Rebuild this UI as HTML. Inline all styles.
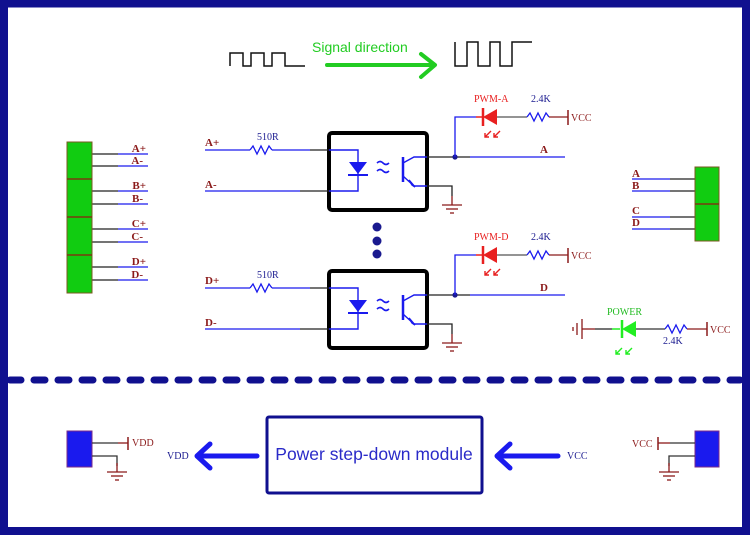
<!DOCTYPE html>
<html><head><meta charset="utf-8"><style>
html,body{margin:0;padding:0;background:#fff;width:750px;height:535px;overflow:hidden}
svg{display:block}
.lbl{font-family:"Liberation Serif",serif;font-size:11px;fill:#8b1a1a;font-weight:bold}
.sm{font-family:"Liberation Serif",serif;font-size:10px}
</style></head><body>
<svg width="750" height="535" viewBox="0 0 750 535" xmlns="http://www.w3.org/2000/svg">
<defs>
<g id="gnd" stroke="#8b1a1a" stroke-width="1.3" fill="none">
<line x1="0" y1="0" x2="0" y2="9"/><line x1="-10" y1="9" x2="10" y2="9"/><line x1="-6" y1="13" x2="6" y2="13"/><line x1="-2" y1="17" x2="2" y2="17"/>
</g>
<g id="opto">
<rect x="329" y="133" width="98" height="77" rx="3" fill="none" stroke="#000" stroke-width="4"/>
<polyline points="329,150 358,150 358,191 329,191" fill="none" stroke="#1a1aee" stroke-width="1.4"/>
<polygon points="349,162 367,162 358,174" fill="#1a1aee"/>
<line x1="348" y1="175" x2="368" y2="175" stroke="#1a1aee" stroke-width="2"/>
<path d="M377,163 q3,-3 6,0 q3,3 6,0 M377,171 q3,-3 6,0 q3,3 6,0" stroke="#1a1aee" stroke-width="1.6" fill="none"/>
<line x1="403" y1="157" x2="403" y2="182" stroke="#1a1aee" stroke-width="2.5"/>
<polyline points="403,163 414,157 427,157" fill="none" stroke="#1a1aee" stroke-width="1.4"/>
<polyline points="403,176 414,186 427,186" fill="none" stroke="#1a1aee" stroke-width="1.4"/>
<polygon points="415,187 409,180 412,185" fill="#1a1aee" stroke="#1a1aee" stroke-width="1.5"/>
<line x1="205" y1="150" x2="250" y2="150" stroke="#1a1aee" stroke-width="1.3"/>
<polyline points="250,150 253,146 257,154 261,146 265,154 269,146 272,150" fill="none" stroke="#1a1aee" stroke-width="1.3"/>
<line x1="272" y1="150" x2="310" y2="150" stroke="#1a1aee" stroke-width="1.3"/>
<line x1="310" y1="150" x2="329" y2="150" stroke="#222" stroke-width="1.3"/>
<line x1="205" y1="191" x2="300" y2="191" stroke="#1a1aee" stroke-width="1.3"/>
<line x1="300" y1="191" x2="329" y2="191" stroke="#222" stroke-width="1.3"/>
<text x="257" y="140" class="sm" fill="#1a1a8f">510R</text>
<line x1="427" y1="157" x2="470" y2="157" stroke="#222" stroke-width="1.3"/>
<line x1="470" y1="157" x2="565" y2="157" stroke="#1a1aee" stroke-width="1.3"/>
<circle cx="455" cy="157" r="2.6" fill="#1a1a8f"/>
<polyline points="455,157 455,117 476,117" fill="none" stroke="#1a1aee" stroke-width="1.3"/>
<line x1="476" y1="117" x2="482" y2="117" stroke="#e82020" stroke-width="1.5"/>
<polygon points="483,117 497,109 497,125" fill="#e82020"/>
<line x1="483" y1="108" x2="483" y2="126" stroke="#e82020" stroke-width="2.5"/>
<line x1="497" y1="117" x2="527" y2="117" stroke="#555" stroke-width="1.3"/>
<polyline points="527,117 530,113 534,121 538,113 542,121 546,113 549,117" fill="none" stroke="#1a1aee" stroke-width="1.3"/>
<line x1="549" y1="117" x2="568" y2="117" stroke="#8b1a1a" stroke-width="1.3"/>
<line x1="568" y1="110" x2="568" y2="125" stroke="#8b1a1a" stroke-width="1.5"/>
<text x="571" y="121" class="sm" fill="#8b1a1a">VCC</text>
<path d="M491,131 l-6,6 m0,-4 v4 h4 M500,131 l-6,6 m0,-4 v4 h4" stroke="#e82020" stroke-width="1.4" fill="none"/>
<text x="531" y="102" class="sm" fill="#1a1a8f">2.4K</text>
<polyline points="427,186 452,186 452,196" fill="none" stroke="#222" stroke-width="1.3"/>
<use href="#gnd" x="452" y="196"/>
</g>
</defs>
<rect x="4" y="3.5" width="742" height="527.5" fill="none" stroke="#10108f" stroke-width="8"/>
<line x1="10" y1="380" x2="740" y2="380" stroke="#10108f" stroke-width="7" stroke-dasharray="11 13" stroke-linecap="round"/>
<polyline points="230,66 230,53 243,53 243,66 251,66 251,53 264,53 264,66 272,66 272,53 285,53 285,66 305,66" fill="none" stroke="#111" stroke-width="1.5"/>
<polyline points="455,42 455,66 467,66 467,42 478,42 478,66 490,66 490,42 500,42 500,66 512,66 512,42 532,42" fill="none" stroke="#111" stroke-width="1.5"/>
<text x="312" y="52" font-family="Liberation Sans,sans-serif" font-size="14" fill="#22cc22">Signal direction</text>
<line x1="327" y1="65" x2="434" y2="65" stroke="#22cc22" stroke-width="4" stroke-linecap="round"/>
<polyline points="421,54 435,65 421,77" fill="none" stroke="#22cc22" stroke-width="4" stroke-linecap="round" stroke-linejoin="round"/>
<use href="#opto"/>
<text x="205" y="146" class="lbl">A+</text><text x="205" y="188" class="lbl">A-</text>
<text x="474" y="102" class="sm" fill="#e82020">PWM-A</text>
<text x="540" y="153" class="lbl">A</text>
<circle cx="377" cy="227" r="4.5" fill="#1a1a8f"/><circle cx="377" cy="241" r="4.5" fill="#1a1a8f"/><circle cx="377" cy="254" r="4.5" fill="#1a1a8f"/>
<use href="#opto" y="138"/>
<text x="205" y="284" class="lbl">D+</text><text x="205" y="326" class="lbl">D-</text>
<text x="474" y="240" class="sm" fill="#e82020">PWM-D</text>
<text x="540" y="291" class="lbl">D</text>
<g stroke-width="1.3">
<line x1="92" y1="154" x2="118" y2="154" stroke="#222"/><line x1="118" y1="154" x2="148" y2="154" stroke="#1a1aee"/>
<line x1="92" y1="166" x2="118" y2="166" stroke="#222"/><line x1="118" y1="166" x2="148" y2="166" stroke="#1a1aee"/>
<line x1="92" y1="191" x2="118" y2="191" stroke="#222"/><line x1="118" y1="191" x2="148" y2="191" stroke="#1a1aee"/>
<line x1="92" y1="204" x2="118" y2="204" stroke="#222"/><line x1="118" y1="204" x2="148" y2="204" stroke="#1a1aee"/>
<line x1="92" y1="229" x2="118" y2="229" stroke="#222"/><line x1="118" y1="229" x2="148" y2="229" stroke="#1a1aee"/>
<line x1="92" y1="242" x2="118" y2="242" stroke="#222"/><line x1="118" y1="242" x2="148" y2="242" stroke="#1a1aee"/>
<line x1="92" y1="267" x2="118" y2="267" stroke="#222"/><line x1="118" y1="267" x2="148" y2="267" stroke="#1a1aee"/>
<line x1="92" y1="280" x2="118" y2="280" stroke="#222"/><line x1="118" y1="280" x2="148" y2="280" stroke="#1a1aee"/>
</g>
<rect x="67" y="142" width="25" height="151" fill="#11cc11" stroke="#7a5a20" stroke-width="1"/>
<g stroke="#7a3a10" stroke-width="1.5"><line x1="67" y1="179" x2="92" y2="179"/><line x1="67" y1="217" x2="92" y2="217"/><line x1="67" y1="255" x2="92" y2="255"/></g>
<text x="146" y="152" class="lbl" text-anchor="end">A+</text><text x="143" y="164" class="lbl" text-anchor="end">A-</text>
<text x="146" y="189" class="lbl" text-anchor="end">B+</text><text x="143" y="202" class="lbl" text-anchor="end">B-</text>
<text x="146" y="227" class="lbl" text-anchor="end">C+</text><text x="143" y="240" class="lbl" text-anchor="end">C-</text>
<text x="146" y="265" class="lbl" text-anchor="end">D+</text><text x="143" y="278" class="lbl" text-anchor="end">D-</text>
<g stroke-width="1.3">
<line x1="632" y1="179" x2="670" y2="179" stroke="#1a1aee"/><line x1="670" y1="179" x2="695" y2="179" stroke="#222"/>
<line x1="632" y1="191" x2="670" y2="191" stroke="#1a1aee"/><line x1="670" y1="191" x2="695" y2="191" stroke="#222"/>
<line x1="632" y1="217" x2="670" y2="217" stroke="#1a1aee"/><line x1="670" y1="217" x2="695" y2="217" stroke="#222"/>
<line x1="632" y1="229" x2="670" y2="229" stroke="#1a1aee"/><line x1="670" y1="229" x2="695" y2="229" stroke="#222"/>
</g>
<rect x="695" y="167" width="24" height="74" fill="#11cc11" stroke="#7a5a20" stroke-width="1"/>
<line x1="695" y1="204" x2="719" y2="204" stroke="#7a3a10" stroke-width="1.5"/>
<text x="632" y="177" class="lbl">A</text><text x="632" y="189" class="lbl">B</text>
<text x="632" y="214" class="lbl">C</text><text x="632" y="226" class="lbl">D</text>
<g stroke="#8b1a1a" stroke-width="1.3"><line x1="582" y1="319" x2="582" y2="339"/><line x1="577" y1="323" x2="577" y2="335"/><line x1="573" y1="327" x2="573" y2="331"/></g>
<line x1="582" y1="329" x2="595" y2="329" stroke="#8b1a1a" stroke-width="1.3"/>
<line x1="595" y1="329" x2="612" y2="329" stroke="#222" stroke-width="1.3"/>
<line x1="612" y1="329" x2="620" y2="329" stroke="#22ee22" stroke-width="1.5"/>
<polygon points="622,329 636,321 636,337" fill="#22ee22"/>
<line x1="622" y1="320" x2="622" y2="338" stroke="#22ee22" stroke-width="2.5"/>
<line x1="636" y1="329" x2="665" y2="329" stroke="#333" stroke-width="1.3"/>
<polyline points="665,329 668,325 672,333 676,325 680,333 684,325 687,329" fill="none" stroke="#1a1aee" stroke-width="1.3"/>
<line x1="687" y1="329" x2="707" y2="329" stroke="#8b1a1a" stroke-width="1.3"/>
<line x1="707" y1="322" x2="707" y2="336" stroke="#8b1a1a" stroke-width="1.5"/>
<text x="710" y="333" class="sm" fill="#8b1a1a">VCC</text>
<text x="607" y="315" class="sm" fill="#22bb22">POWER</text>
<text x="663" y="344" class="sm" fill="#1a1a8f">2.4K</text>
<path d="M622,348 l-6,6 m0,-4 v4 h4 M632,348 l-6,6 m0,-4 v4 h4" stroke="#22ee22" stroke-width="1.4" fill="none"/>
<rect x="67" y="431" width="25" height="36" fill="#1a1aee" stroke="#7a2a8a" stroke-width="1"/>
<line x1="92" y1="443" x2="118" y2="443" stroke="#333" stroke-width="1.3"/>
<line x1="118" y1="443" x2="128" y2="443" stroke="#8b1a1a" stroke-width="1.3"/>
<line x1="128" y1="437" x2="128" y2="450" stroke="#8b1a1a" stroke-width="1.5"/>
<text x="132" y="446" class="sm" fill="#8b1a1a">VDD</text>
<polyline points="92,456 117,456 117,466" fill="none" stroke="#333" stroke-width="1.3"/>
<use href="#gnd" x="117" y="463"/>
<text x="167" y="459" class="sm" fill="#1a1a8f">VDD</text>
<line x1="200" y1="456" x2="257" y2="456" stroke="#1a1aee" stroke-width="5" stroke-linecap="round"/>
<polyline points="210,444 197,456 210,468" fill="none" stroke="#1a1aee" stroke-width="5" stroke-linecap="round" stroke-linejoin="round"/>
<rect x="267" y="417" width="215" height="76" rx="2" fill="none" stroke="#10108f" stroke-width="3"/>
<text x="374" y="460" text-anchor="middle" font-family="Liberation Sans,sans-serif" font-size="17.5" fill="#2a2ac8">Power step-down module</text>
<line x1="500" y1="456" x2="558" y2="456" stroke="#1a1aee" stroke-width="5" stroke-linecap="round"/>
<polyline points="510,444 497,456 510,468" fill="none" stroke="#1a1aee" stroke-width="5" stroke-linecap="round" stroke-linejoin="round"/>
<text x="567" y="459" class="sm" fill="#1a1a8f">VCC</text>
<rect x="695" y="431" width="24" height="36" fill="#1a1aee" stroke="#7a2a8a" stroke-width="1"/>
<line x1="658" y1="443" x2="670" y2="443" stroke="#8b1a1a" stroke-width="1.3"/>
<line x1="670" y1="443" x2="695" y2="443" stroke="#333" stroke-width="1.3"/>
<line x1="658" y1="437" x2="658" y2="450" stroke="#8b1a1a" stroke-width="1.5"/>
<text x="632" y="447" class="sm" fill="#8b1a1a">VCC</text>
<polyline points="695,456 669,456 669,466" fill="none" stroke="#333" stroke-width="1.3"/>
<use href="#gnd" x="669" y="463"/>
</svg>
</body></html>
